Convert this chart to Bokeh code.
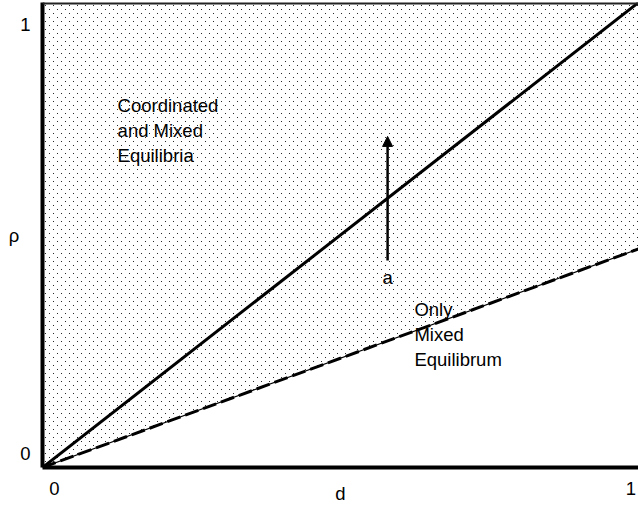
import zlib, struct, base64
from bokeh.plotting import figure
from bokeh.models import (Range1d, Span, Label, Arrow, NormalHead, ImageURLTexture,
                          LinearAxis, FixedTicker)
from bokeh.embed import file_html
from bokeh.resources import INLINE

# ---- data ----
d_line = [0, 1]
rho_coord = [0, 1]          # solid boundary: rho = d
rho_mixed = [0, 0.47]       # dashed boundary
region_d = [0, 1, 1, 0]
region_rho = [0, 0.47, 1, 1]
x_ticks = [0, 1]
x_tick_labels = ["0", "1"]
y_ticks = [0, 1]
y_tick_labels = ["0", "1"]
arrow_d = 0.579
arrow_rho = [0.445, 0.712]
label_coord = "Coordinated\nand Mixed\nEquilibria"
label_coord_pos = (0.126, 0.802)
label_mixed = "Only\nMixed\nEquilibrum"
label_mixed_pos = (0.624, 0.363)
label_a = "a"
label_a_pos = (0.579, 0.409)
x_title = "d"
y_title = "ρ"

FONT = "Liberation Sans"
FS = "18.5px"

# ---- dotted texture ----
def png_rgba(w, h, rows):
    raw = b"".join(b"\x00" + bytes([c for px in row for c in px]) for row in rows)
    def chunk(t, dat):
        c = struct.pack(">I", len(dat)) + t + dat
        return c + struct.pack(">I", zlib.crc32(t + dat) & 0xffffffff)
    return (b"\x89PNG\r\n\x1a\n" + chunk(b"IHDR", struct.pack(">IIBBBBB", w, h, 8, 6, 0, 0, 0))
            + chunk(b"IDAT", zlib.compress(raw)) + chunk(b"IEND", b""))

tile = [[(255, 255, 255, 0)] * 8 for _ in range(8)]
tile[1][1] = (40, 40, 40, 255)
tile[5][5] = (40, 40, 40, 255)
uri = "data:image/png;base64," + base64.b64encode(png_rgba(8, 8, tile)).decode()

p = figure(width=638, height=507, output_backend="svg", toolbar_location=None,
           x_range=Range1d(0, 1), y_range=Range1d(0, 1),
           x_axis_location=None, y_axis_location=None,
           min_border_left=42, min_border_right=0, min_border_top=2, min_border_bottom=40)
p.xgrid.visible = False
p.ygrid.visible = False
p.outline_line_color = None
p.background_fill_color = "white"
p.border_fill_color = "white"

# label ranges (position the tick labels the way the reference does)
p.extra_x_ranges = {"lab_x": Range1d(-0.0208, 1.0130)}
p.extra_y_ranges = {"lab_y": Range1d(-0.0327, 1.0525)}

def style_axis(ax, ticks, labels, standoff, title, title_standoff):
    ax.ticker = FixedTicker(ticks=ticks)
    ax.major_label_overrides = {t: l for t, l in zip(ticks, labels)}
    ax.axis_line_width = 4
    ax.axis_line_color = "black"
    ax.major_tick_line_color = None
    ax.minor_tick_line_color = None
    ax.major_tick_out = 0
    ax.major_tick_in = 0
    ax.major_label_standoff = standoff
    ax.major_label_text_font = FONT
    ax.major_label_text_font_size = FS
    ax.major_label_text_color = "black"
    ax.axis_label = title
    ax.axis_label_text_font = FONT
    ax.axis_label_text_font_size = FS
    ax.axis_label_text_font_style = "normal"
    ax.axis_label_text_color = "black"
    ax.axis_label_standoff = title_standoff

xax = LinearAxis(x_range_name="lab_x")
style_axis(xax, x_ticks, x_tick_labels, 14, x_title, -15)
p.add_layout(xax, "below")

yax = LinearAxis(y_range_name="lab_y")
style_axis(yax, y_ticks, y_tick_labels, 12, y_title, -2)
yax.axis_label_orientation = "horizontal"
p.add_layout(yax, "left")

p.patch(region_d, region_rho, fill_color="white", line_color=None,
        hatch_pattern="dots", hatch_extra={"dots": ImageURLTexture(url=uri)},
        hatch_color="black")

p.line(d_line, rho_coord, line_color="black", line_width=3)
p.line(d_line, rho_mixed, line_color="black", line_width=1.2)
p.line(d_line, rho_mixed, line_color="black", line_width=3, line_dash="14 5")

p.add_layout(Arrow(end=NormalHead(size=10, fill_color="black", line_color="black"),
                   x_start=arrow_d, y_start=arrow_rho[0], x_end=arrow_d, y_end=arrow_rho[1],
                   line_width=2.5, line_color="black"))

# top edge of the frame
p.add_layout(Span(location=1, dimension="width", line_color="#222222", line_width=4))

def lab(x, y, text, align="left", base="top"):
    p.add_layout(Label(x=x, y=y, text=text,
                       text_font=FONT, text_font_size=FS, text_color="black",
                       text_align=align, text_baseline=base))

lab(label_coord_pos[0], label_coord_pos[1], label_coord)
lab(label_mixed_pos[0], label_mixed_pos[1], label_mixed)
lab(label_a_pos[0], label_a_pos[1], label_a, align="center", base="middle")

open("out.html", "w").write(file_html(p, INLINE))
